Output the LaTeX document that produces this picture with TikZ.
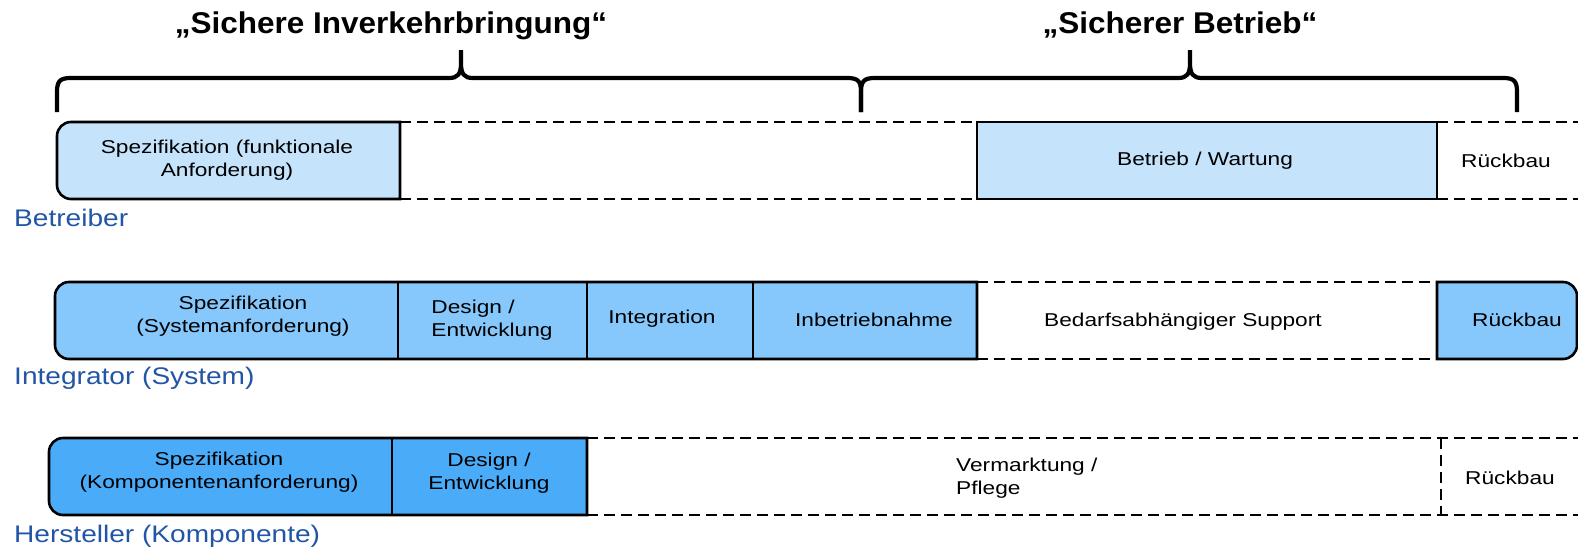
\documentclass[tikz,border=0pt]{standalone}
\usepackage{fontspec}
\setmainfont{Liberation Sans}
\newfontfamily\boxfont{Liberation Sans}[FakeStretch=1.22]
\newfontfamily\rolefont{Liberation Sans}[FakeStretch=1.17]
\newfontfamily\headfont{Liberation Sans}[FakeStretch=1.05]

\definecolor{opfill}{HTML}{C5E4FC}
\definecolor{intfill}{HTML}{86C7FC}
\definecolor{mffill}{HTML}{4AABF8}
\definecolor{rolecol}{HTML}{2155A5}

\tikzset{
  boxline/.style={draw=black, line width=2.6pt, line join=miter},
  dashline/.style={draw=black, line width=2.7pt, dash pattern=on 11pt off 6pt},
  bracket/.style={draw=black, line width=4.2pt},
  txt/.style={font=\boxfont\fontsize{18.6}{23.5}\selectfont, align=center, inner sep=0pt},
  role/.style={font=\rolefont\fontsize{24}{28}\selectfont, text=rolecol, anchor=west, inner sep=0pt},
  head/.style={font=\headfont\bfseries\fontsize{30}{34}\selectfont, anchor=base, inner sep=0pt},
}

% curly brace from x0 to x1 with tip at xm; horizontal at 78, ends down to 112, tip up to 50
\newcommand{\phasebrace}[3]{%
  \draw[bracket] (#1,112) -- (#1,92) .. controls (#1,81) and (#1+3,78) .. (#1+14,78)
    -- (#2-12,78) .. controls (#2-3,78) and (#2,74) .. (#2,63) -- (#2,50)
    (#2,63) .. controls (#2,74) and (#2+3,78) .. (#2+12,78)
    -- (#3-14,78) .. controls (#3-3,78) and (#3,81) .. (#3,92) -- (#3,112);}

\begin{document}
\begin{tikzpicture}[x=1pt,y=-1pt]
\useasboundingbox (0,0) rectangle (1578,554);

% ---------- headings and braces ----------
\node[head] (head-a) at (391,33) {„Sichere Inverkehrbringung“};
\node[head] (head-b) at (1180,33) {„Sicherer Betrieb“};
\phasebrace{57}{461}{861}
\phasebrace{861}{1190}{1517}

% ---------- Betreiber ----------
\draw[boxline, fill=opfill] (400,122) -- (71,122) arc[start angle=90, end angle=180, radius=14pt]
  -- (57,185) arc[start angle=180, end angle=270, radius=14pt] -- (400,199) -- cycle;
\draw[boxline, fill=opfill] (977,122) rectangle (1437,199);
\draw[dashline] (400,122) -- (977,122) (400,199) -- (977,199);
\draw[dashline] (1437,122) -- (1578,122) (1437,199) -- (1578,199);
\node[txt] (op-spec) at (227,160) {Spezifikation (funktionale\\Anforderung)};
\node[txt] (op-run) at (1205,161) {Betrieb / Wartung};
\node[txt] (op-dis) at (1506,161) {Rückbau};
\node[role] (role-op) at (14,218) {Betreiber};

% ---------- Integrator ----------
\draw[boxline, fill=intfill] (977,282) -- (69,282) arc[start angle=90, end angle=180, radius=14pt]
  -- (55,345) arc[start angle=180, end angle=270, radius=14pt] -- (977,359) -- cycle;
\draw[boxline] (398,282) -- (398,359) (587,282) -- (587,359) (753,282) -- (753,359);
\draw[dashline] (977,282) -- (1437,282) (977,359) -- (1437,359);
\draw[boxline, fill=intfill] (1437,282) -- (1563,282) arc[start angle=90, end angle=0, radius=14pt]
  -- (1577,345) arc[start angle=0, end angle=-90, radius=14pt] -- (1437,359) -- cycle;
\node[txt] (int-spec) at (243,316) {Spezifikation\\(Systemanforderung)};
\node[txt, align=left] (int-dev) at (492,320) {Design /\\Entwicklung};
\node[txt] (int-int) at (662,319) {Integration};
\node[txt] (int-com) at (874,320) {Inbetriebnahme};
\node[txt] (int-sup) at (1183,322) {Bedarfsabhängiger Support};
\node[txt] (int-dis) at (1517,320) {Rückbau};
\node[role] (role-int) at (14,378) {Integrator (System)};

% ---------- Hersteller ----------
\draw[boxline, fill=mffill] (587,438) -- (63,438) arc[start angle=90, end angle=180, radius=14pt]
  -- (49,501) arc[start angle=180, end angle=270, radius=14pt] -- (587,515) -- cycle;
\draw[boxline] (392,438) -- (392,515);
\draw[dashline] (587,438) -- (1578,438) (587,515) -- (1578,515) (1441,438) -- (1441,515);
\node[txt] (mf-spec) at (219,472) {Spezifikation\\(Komponentenanforderung)};
\node[txt] (mf-dev) at (489,473) {Design /\\Entwicklung};
\node[txt, align=left, anchor=west] (mf-mkt) at (956,478) {Vermarktung /\\Pflege};
\node[txt] (mf-dis) at (1510,478) {Rückbau};
\node[role] (role-mf) at (14,536) {Hersteller (Komponente)};
\end{tikzpicture}
\end{document}
